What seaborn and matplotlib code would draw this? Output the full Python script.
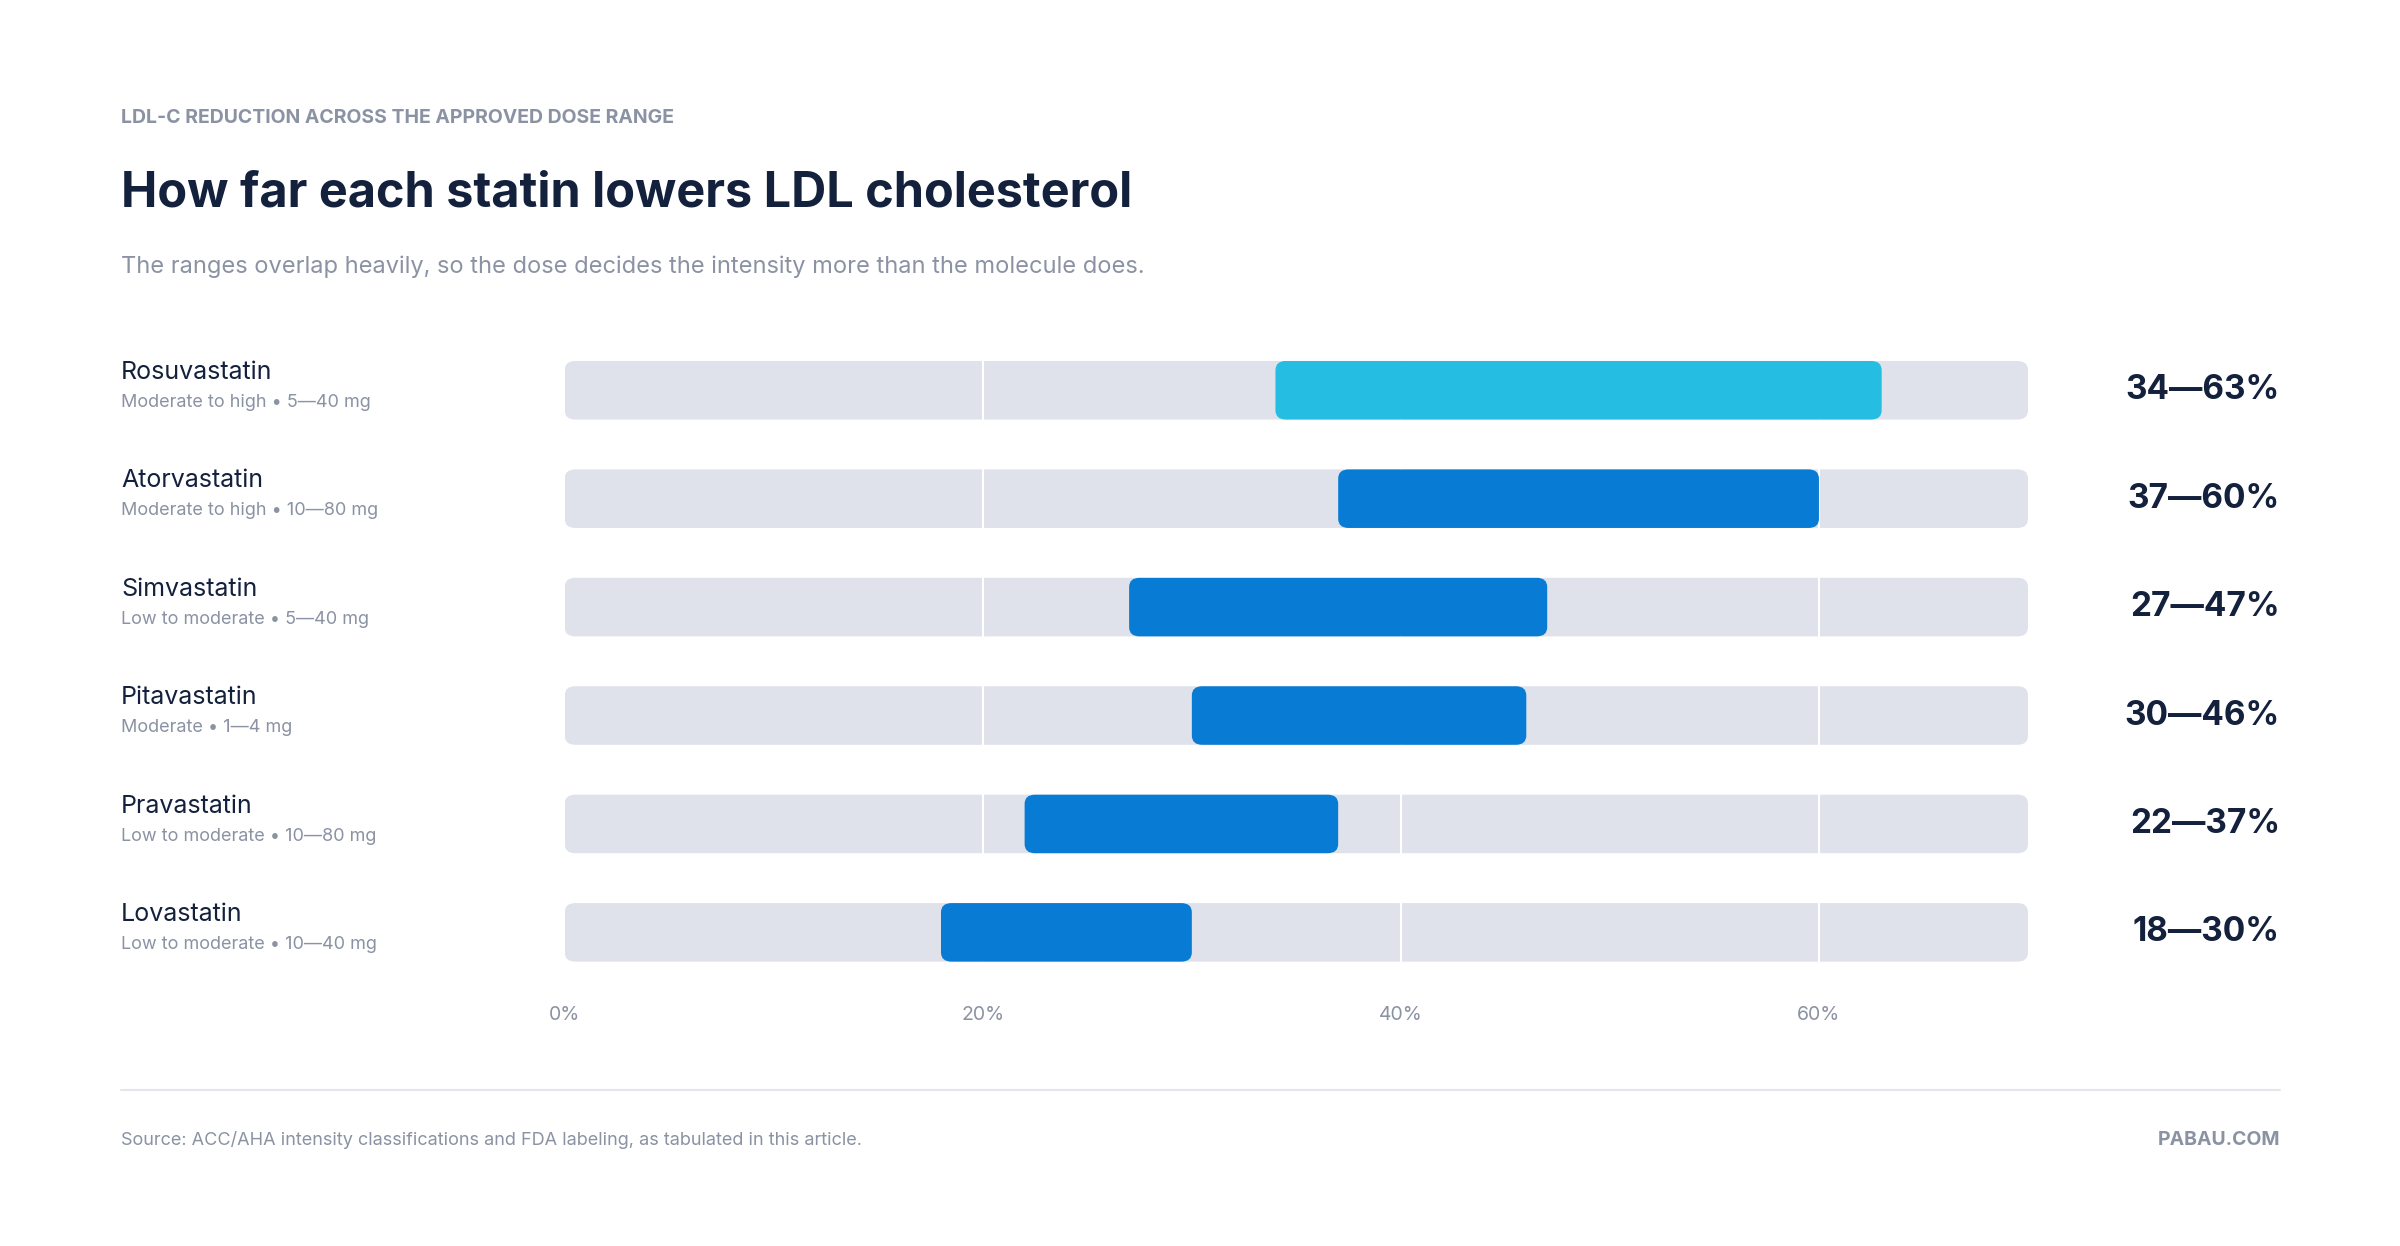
import matplotlib
matplotlib.use("Agg")
import matplotlib.pyplot as plt
import seaborn as sns
import pandas as pd
from matplotlib.patches import FancyBboxPatch

drugs = ["Rosuvastatin", "Atorvastatin", "Simvastatin", "Pitavastatin", "Pravastatin", "Lovastatin"]
details = ["Moderate to high • 5—40 mg", "Moderate to high • 10—80 mg", "Low to moderate • 5—40 mg",
           "Moderate • 1—4 mg", "Low to moderate • 10—80 mg", "Low to moderate • 10—40 mg"]
low = [34, 37, 27, 30, 22, 18]
high = [63, 60, 47, 46, 37, 30]
ticks = [0, 20, 40, 60]
x_max = 70

df = pd.DataFrame({"drug": drugs, "low": low, "high": high})
df["width"] = df["high"] - df["low"]

sns.set_style("white")
plt.rcParams["font.family"] = ["Inter", "DejaVu Sans"]

fig = plt.figure(figsize=(24, 12.46), dpi=100)
fig.patch.set_facecolor("white")
ax = fig.add_axes([0.2353, 0.2082, 0.6097, 0.5221])

TRACK = "#dfe2eb"
BLUE = "#087bd4"
CYAN = "#25bde2"
NAVY = "#14213d"
GREY = "#8a92a3"

# background tracks
sns.barplot(x=[x_max] * len(drugs), y=drugs, orient="h", color=TRACK, width=0.54, ax=ax, zorder=1)
for t in ticks[1:]:
    ax.axvline(t, color="white", lw=1.5, zorder=2)
# ranges
sns.barplot(x=df["width"], y=df["drug"], left=df["low"], orient="h", color=BLUE, width=0.54, ax=ax, zorder=3)

colors = [TRACK] * len(drugs) + [CYAN] + [BLUE] * (len(drugs) - 1)
patches = list(ax.patches)
for p, c in zip(patches, colors):
    x, y, w, h = p.get_x(), p.get_y(), p.get_width(), p.get_height()
    z = p.get_zorder()
    p.remove()
    ax.add_patch(FancyBboxPatch((x, y), w, h, boxstyle="round,pad=0,rounding_size=0.5",
                                mutation_aspect=0.17, fc=c, ec="none", zorder=z))

ax.set_xlim(0, x_max)
ax.set_ylim(len(drugs) - 0.5, -0.5)
ax.set_xticks(ticks)
ax.set_xticklabels([f"{t}%" for t in ticks], fontsize=14, color=GREY)
ax.tick_params(axis="x", length=0, pad=14)
ax.set_yticks([])
ax.set_xlabel("")
ax.set_ylabel("")
sns.despine(ax=ax, left=True, bottom=True)

for i, (d, det, lo, hi) in enumerate(zip(drugs, details, low, high)):
    ax.text(-0.0, i, "", transform=ax.transData)
    yfig = ax.transData.transform((0, i))[1] / fig.bbox.height
    fig.text(0.0504, yfig + 0.005, d, fontsize=18, color=NAVY, va="bottom")
    fig.text(0.0504, yfig - 0.003, det, fontsize=13, color=GREY, va="top")
    fig.text(0.950, yfig, f"{lo}—{hi}%", fontsize=24, fontweight="bold", color=NAVY, va="center", ha="right")

fig.text(0.0504, 0.905, "LDL-C REDUCTION ACROSS THE APPROVED DOSE RANGE", fontsize=14, fontweight="bold",
         color=GREY, va="center")
fig.text(0.0504, 0.845, "How far each statin lowers LDL cholesterol", fontsize=35, fontweight="bold",
         color=NAVY, va="center")
fig.text(0.0504, 0.786, "The ranges overlap heavily, so the dose decides the intensity more than the molecule does.",
         fontsize=17, color=GREY, va="center")
fig.add_artist(plt.Line2D([0.0504, 0.950], [0.125, 0.125], color="#e3e6ec", lw=1.5))
fig.text(0.0504, 0.085, "Source: ACC/AHA intensity classifications and FDA labeling, as tabulated in this article.",
         fontsize=13, color=GREY, va="center")
fig.text(0.950, 0.085, "PABAU.COM", fontsize=14, fontweight="bold", color=GREY, va="center", ha="right")

fig.savefig("out.png", dpi=100, facecolor="white")
